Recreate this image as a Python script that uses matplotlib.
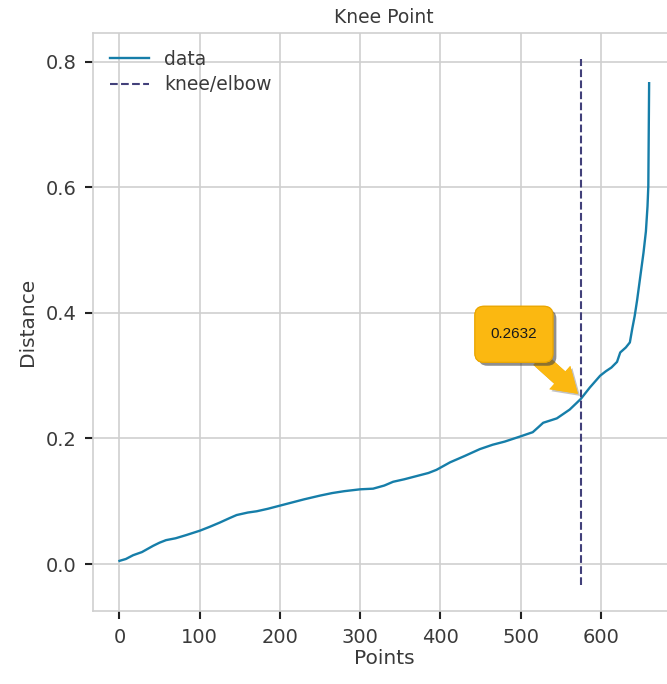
import matplotlib
matplotlib.use("Agg")
import matplotlib.pyplot as plt
import matplotlib.transforms as mtransforms
import matplotlib.patheffects as pe
from matplotlib.patches import FancyBboxPatch, FancyArrowPatch

# sorted k-distance curve
points = [0, 8, 17, 28, 42, 50, 58, 70, 83, 100, 112, 125, 137, 146, 160, 171,
          185, 200, 212, 230, 250, 265, 280, 300, 316, 330, 341, 355, 370, 385,
          395, 412, 430, 449, 465, 480, 499, 515, 522, 528, 545, 561, 570, 575,
          586, 599, 606, 613, 620, 624, 631, 636, 639, 642, 645, 649, 653, 656,
          658, 659, 660]
distance = [0.005, 0.008, 0.014, 0.019, 0.029, 0.034, 0.038, 0.041, 0.046, 0.053,
            0.059, 0.066, 0.073, 0.078, 0.082, 0.084, 0.088, 0.093, 0.097, 0.103,
            0.109, 0.113, 0.116, 0.119, 0.120, 0.125, 0.131, 0.135, 0.140, 0.145,
            0.150, 0.162, 0.172, 0.183, 0.190, 0.195, 0.203, 0.210, 0.218, 0.225,
            0.232, 0.246, 0.257, 0.2632, 0.281, 0.300, 0.307, 0.313, 0.322, 0.337,
            0.345, 0.353, 0.375, 0.395, 0.420, 0.458, 0.496, 0.530, 0.570, 0.602,
            0.766]
knee_x = 575
knee_y = 0.2632

xticks = [0, 100, 200, 300, 400, 500, 600]
yticks = [0.0, 0.2, 0.4, 0.6, 0.8]

text_col = "#3a3a3a"
grid_col = "#cfcfcf"
plt.rcParams.update({
    "font.family": ["DejaVu Sans"],
    "axes.edgecolor": grid_col,
    "axes.linewidth": 1.2,
    "xtick.color": "#222222",
    "ytick.color": "#222222",
    "xtick.labelcolor": text_col,
    "ytick.labelcolor": text_col,
})

fig = plt.figure(figsize=(6.67, 6.84), dpi=100)
ax = fig.add_axes([0.1394, 0.1067, 0.8735, 0.845])

ax.plot(points, distance, color="#167ea9", lw=1.7, label="data", zorder=3)
lo, hi = ax.get_ylim()
ax.vlines(knee_x, lo, hi, linestyles="--", colors="#42407a", lw=1.5,
          label="knee/elbow", zorder=3)

ax.set_xticks(xticks)
ax.set_yticks(yticks)
ax.grid(True, color=grid_col, lw=1.2)
ax.set_axisbelow(True)
ax.tick_params(axis="both", length=6, width=1.5, labelsize=14, pad=6)
ax.set_xlabel("Points", fontsize=14.5, color=text_col, labelpad=2)
ax.set_ylabel("Distance", fontsize=14.5, color=text_col, labelpad=6)
ax.set_title("Knee Point", fontsize=13.5, color=text_col, pad=7)

leg = ax.legend(loc="upper left", frameon=False, fontsize=13.5,
                handlelength=2.1, labelspacing=0.35)
for t in leg.get_texts():
    t.set_color(text_col)

# callout box anchored at the knee point, sized in pixels
anchor = mtransforms.Affine2D() + mtransforms.ScaledTranslation(
    knee_x, knee_y, ax.transData)
gold = "#fbb811"
box_shadow = [pe.withSimplePatchShadow(offset=(2.5, -2.5), shadow_rgbFace="#444444",
                                       alpha=0.6), pe.Normal()]
arrow_shadow = [pe.withSimplePatchShadow(offset=(1.5, -1.5), shadow_rgbFace="#555555",
                                         alpha=0.35), pe.Normal()]

arrow = FancyArrowPatch(posA=(-42, 40), posB=(-3, 5),
                        arrowstyle="simple,head_length=1.4,head_width=1.8,tail_width=0.95",
                        mutation_scale=12.5, shrinkA=0, shrinkB=0,
                        transform=anchor, facecolor=gold, edgecolor="none",
                        zorder=5, clip_on=False)
arrow.set_path_effects(arrow_shadow)
ax.add_patch(arrow)

box = FancyBboxPatch((-106, 36.5), 78, 56,
                     boxstyle="round,pad=0,rounding_size=9",
                     transform=anchor, facecolor=gold, edgecolor="#eaa600",
                     lw=0.8, zorder=6, clip_on=False)
box.set_path_effects(box_shadow)
ax.add_patch(box)

ax.text(-67, 64.5, f"{knee_y:.4f}", transform=anchor, ha="center", va="center",
        fontsize=11, family=["Liberation Sans"], color="#1a1a1a", zorder=7)

fig.savefig("out.png", dpi=100)
